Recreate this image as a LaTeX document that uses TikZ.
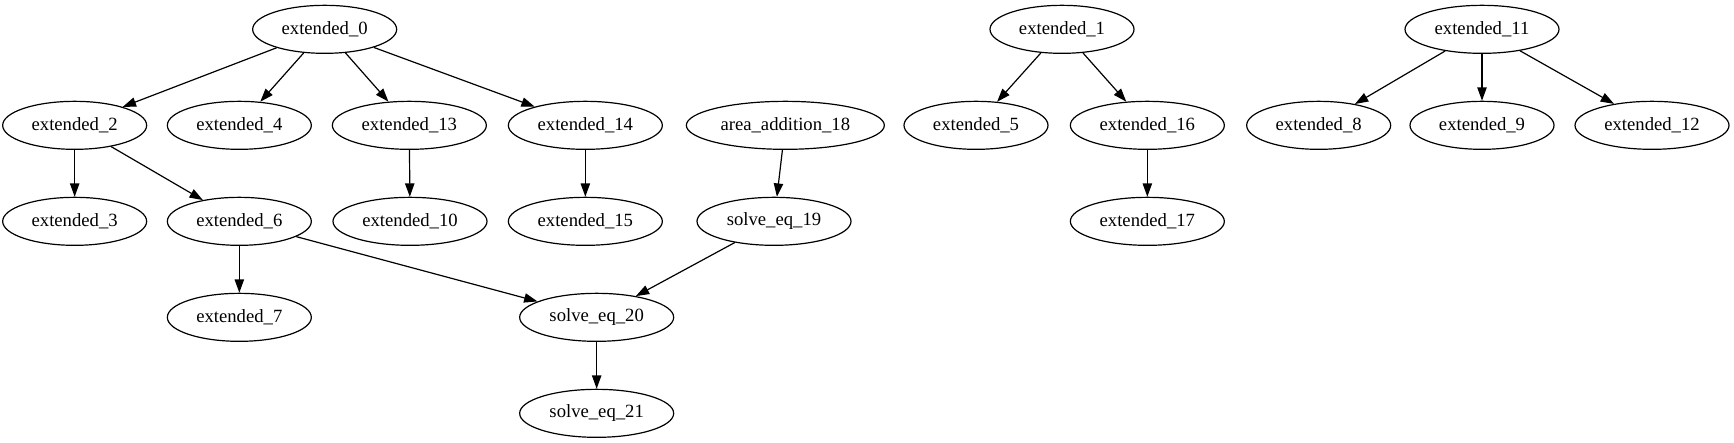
\documentclass[tikz,border=0pt]{standalone}
\usepackage{fontspec}
\setmainfont{Liberation Serif}
\usepackage{tikz}
\usetikzlibrary{arrows.meta,shapes.geometric}
\tikzset{
  stepnode/.style={ellipse, draw=black, line width=0.9pt, fill=white,
                   inner sep=0pt, minimum height=36pt, minimum width=108pt,
                   font=\fontsize{14}{16}\selectfont},
  stepwide/.style={stepnode, minimum width=115.5pt},
  stepxwide/.style={stepnode, minimum width=148.5pt},
  arr/.style={-{Triangle[length=10pt,width=7pt]}, line width=0.9pt, color=black},
}
\begin{document}
\begin{tikzpicture}[x=1pt, y=-1pt]
  \useasboundingbox (0,0) rectangle (1300.5,332);
  % ---- rank 0 ----
  \node[stepnode] (ext0) at (243.5,22) {extended\_0};
  \node[stepnode] (ext1) at (796.5,22) {extended\_1};
  \node[stepwide] (ext11) at (1111.5,22) {extended\_11};

  % ---- rank 1 ----
  \node[stepnode] (ext2) at (56,94) {extended\_2};
  \node[stepnode] (ext4) at (179.5,94) {extended\_4};
  \node[stepwide] (ext13) at (307,94) {extended\_13};
  \node[stepwide] (ext14) at (439,94) {extended\_14};
  \node[stepxwide] (area18) at (589,94) {area\_addition\_18};
  \node[stepnode] (ext5) at (732,94) {extended\_5};
  \node[stepwide] (ext16) at (860.5,94) {extended\_16};
  \node[stepnode] (ext8) at (989,94) {extended\_8};
  \node[stepnode] (ext9) at (1111.5,94) {extended\_9};
  \node[stepwide] (ext12) at (1239,94) {extended\_12};

  % ---- rank 2 ----
  \node[stepnode] (ext3) at (56,166) {extended\_3};
  \node[stepnode] (ext6) at (179.5,166) {extended\_6};
  \node[stepwide] (ext10) at (307.5,166) {extended\_10};
  \node[stepwide] (ext15) at (439,166) {extended\_15};
  \node[stepwide] (solve19) at (580.5,166) {solve\_eq\_19};
  \node[stepwide] (ext17) at (860.5,166) {extended\_17};

  % ---- rank 3 and 4 ----
  \node[stepnode] (ext7) at (179.5,238) {extended\_7};
  \node[stepwide] (solve20) at (447.5,238) {solve\_eq\_20};
  \node[stepwide] (solve21) at (447.5,310) {solve\_eq\_21};

  % ---- edges ----
  \draw[arr] (ext0) -- (ext2);
  \draw[arr] (ext0) -- (ext4);
  \draw[arr] (ext0) -- (ext13);
  \draw[arr] (ext0) -- (ext14);
  \draw[arr] (ext2) -- (ext3);
  \draw[arr] (ext2) -- (ext6);
  \draw[arr] (ext6) -- (ext7);
  \draw[arr] (ext6) -- (solve20);
  \draw[arr] (ext13) -- (ext10);
  \draw[arr] (ext14) -- (ext15);
  \draw[arr] (area18) -- (solve19);
  \draw[arr] (solve19) -- (solve20);
  \draw[arr] (solve20) -- (solve21);
  \draw[arr] (ext1) -- (ext5);
  \draw[arr] (ext1) -- (ext16);
  \draw[arr] (ext16) -- (ext17);
  \draw[arr] (ext11) -- (ext8);
  \draw[arr] (ext11) -- (ext9);
  \draw[arr] (ext11) -- (ext12);
\end{tikzpicture}
\end{document}
